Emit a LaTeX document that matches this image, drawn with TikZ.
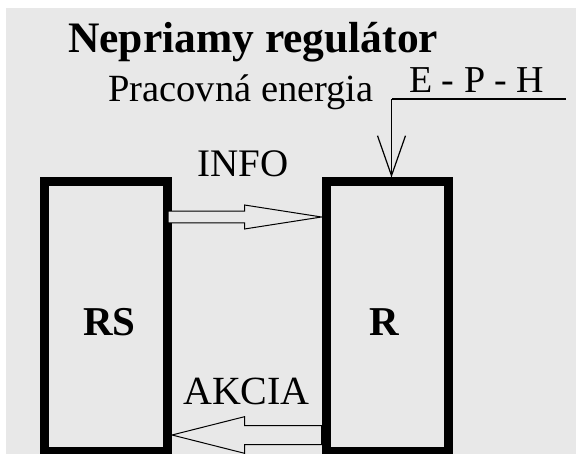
\documentclass[tikz,border=0pt]{standalone}
\usepackage{fontspec}
\setmainfont{Liberation Serif}
\usetikzlibrary{arrows.meta,calc}
\definecolor{bg}{RGB}{232,232,232}
\tikzset{
  blk/.style={draw=black, line width=9pt, inner sep=0pt, minimum width=122.8pt, minimum height=269pt},
  hollow/.style={draw=black, line width=1pt, fill=bg, line join=miter},
  lbl/.style={inner sep=0pt, anchor=base west},
  feed/.style={draw=black, line width=1.2pt, -{Straight Barb[length=40pt,width=28pt,line width=1.2pt]}}
}
\begin{document}
\begin{tikzpicture}[x=1pt,y=-1pt]
\useasboundingbox (0,0) rectangle (576,454);
\fill[white] (0,0) rectangle (576,454);
\fill[bg] (6,8) rectangle (576,454);
\begin{scope}
\clip (0,0) rectangle (576,454);
\node[blk] (RS) at (106.1,316.5) {};
\node[blk] (R) at (387.45,316.5) {};
\end{scope}
% texts
\node[lbl, font=\fontsize{43.5}{43.5}\selectfont\bfseries] (title) at (68,53) {Nepriamy regulátor};
\node[lbl, font=\fontsize{38.5}{38.5}\selectfont] (prac) at (108,101.5) {Pracovná energia};
\node[lbl, font=\fontsize{38}{38}\selectfont] (eph) at (409,93) {E - P - H};
\node[lbl, font=\fontsize{39}{39}\selectfont] (info) at (197,177) {INFO};
\node[lbl, font=\fontsize{40}{40}\selectfont] (akcia) at (183,405) {AKCIA};
\node[lbl, font=\fontsize{41}{41}\selectfont\bfseries] (rstxt) at (83,336) {RS};
\node[lbl, font=\fontsize{41}{41}\selectfont\bfseries] (rtxt) at (369,336) {R};
% energy input
\coordinate (eEnd) at (566,99);
\coordinate (eCorner) at (391.5,99);
\draw[line width=1.2pt] (eEnd) -- (eCorner);
\draw[feed] (eCorner) -- (eCorner |- R.north);
% INFO arrow RS -> R
\coordinate (iS) at ($(RS.east)+(-4,0)$);
\coordinate (iT) at (R.west);
\draw[hollow] (iS |- 0,211.1) -- (244.5,211.1) -- (244.5,205) -- (iT |- 0,217) -- (244.5,229) -- (244.5,222.9) -- (iS |- 0,222.9) -- cycle;
% AKCIA arrow R -> RS
\coordinate (aS) at (R.west);
\coordinate (aT) at (RS.east);
\draw[hollow] (aS |- 0,425.5) -- (244.5,425.5) -- (244.5,416.7) -- (aT |- 0,435) -- (244.5,453.3) -- (244.5,444.5) -- (aS |- 0,444.5) -- cycle;
\end{tikzpicture}
\end{document}
